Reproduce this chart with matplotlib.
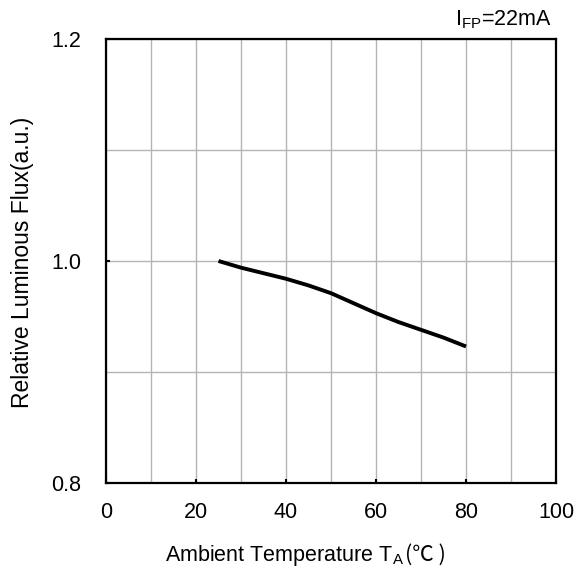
import matplotlib
matplotlib.use("Agg")
import matplotlib.pyplot as plt
from matplotlib.ticker import MultipleLocator

plt.rcParams['font.family'] = ['Liberation Sans', 'Noto Sans CJK SC', 'DejaVu Sans']
plt.rcParams['mathtext.fontset'] = 'custom'
plt.rcParams['mathtext.rm'] = 'Liberation Sans'
plt.rcParams['mathtext.it'] = 'Liberation Sans'
plt.rcParams['mathtext.default'] = 'regular'

# data
temperature = [25, 30, 35, 40, 45, 50, 55, 60, 65, 70, 75, 80]
rel_flux = [1.000, 0.994, 0.989, 0.984, 0.978, 0.971, 0.962, 0.953, 0.945, 0.938, 0.931, 0.923]

x_ticks = [0, 20, 40, 60, 80, 100]
y_ticks = [0.8, 1.0, 1.2]
x_label = "Ambient Temperature T$_\\mathrm{A}$"
x_unit = "(℃ )"
y_label = "Relative Luminous Flux(a.u.)"
cond_label = "I$_\\mathrm{FP}$=22mA"

W, H = 585, 568
fig = plt.figure(figsize=(W / 100, H / 100), dpi=100)
ax = fig.add_axes([106 / W, 1 - 483 / H, 450 / W, 444 / H])

ax.plot(temperature, rel_flux, color='black', lw=2.8, solid_capstyle='butt')

ax.set_xlim(0, 100)
ax.set_ylim(0.8, 1.2)
ax.set_xticks(x_ticks)
ax.set_yticks(y_ticks)
ax.set_yticklabels([f"{v:.1f}" for v in y_ticks])
ax.xaxis.set_minor_locator(MultipleLocator(10))
ax.yaxis.set_minor_locator(MultipleLocator(0.1))
ax.grid(True, which='both', color='#b4b4b4', lw=1.0)
ax.set_axisbelow(True)
ax.tick_params(which='major', direction='in', length=3, width=1.5, labelsize=15.5, pad=14)
ax.tick_params(axis='y', which='major', pad=18)
ax.tick_params(which='minor', length=0)
for s in ax.spines.values():
    s.set_linewidth(1.6)

fs = 15.5
t = fig.text(165 / W, 1 - 561 / H, x_label, ha='left', va='baseline', fontsize=fs)
fig.canvas.draw()
bb = t.get_window_extent()
fig.text(bb.x1 / W + 0.002, 1 - 561 / H, x_unit, ha='left', va='baseline', fontsize=fs,
         family=['Noto Sans CJK SC', 'DejaVu Sans'])
fig.text(23 / W, 1 - 262 / H, y_label, ha='center', va='center', rotation=90, fontsize=16.5)
fig.text(552 / W, 1 - 20 / H, cond_label, ha='right', va='center', fontsize=fs)

fig.savefig("out.png", dpi=100)
